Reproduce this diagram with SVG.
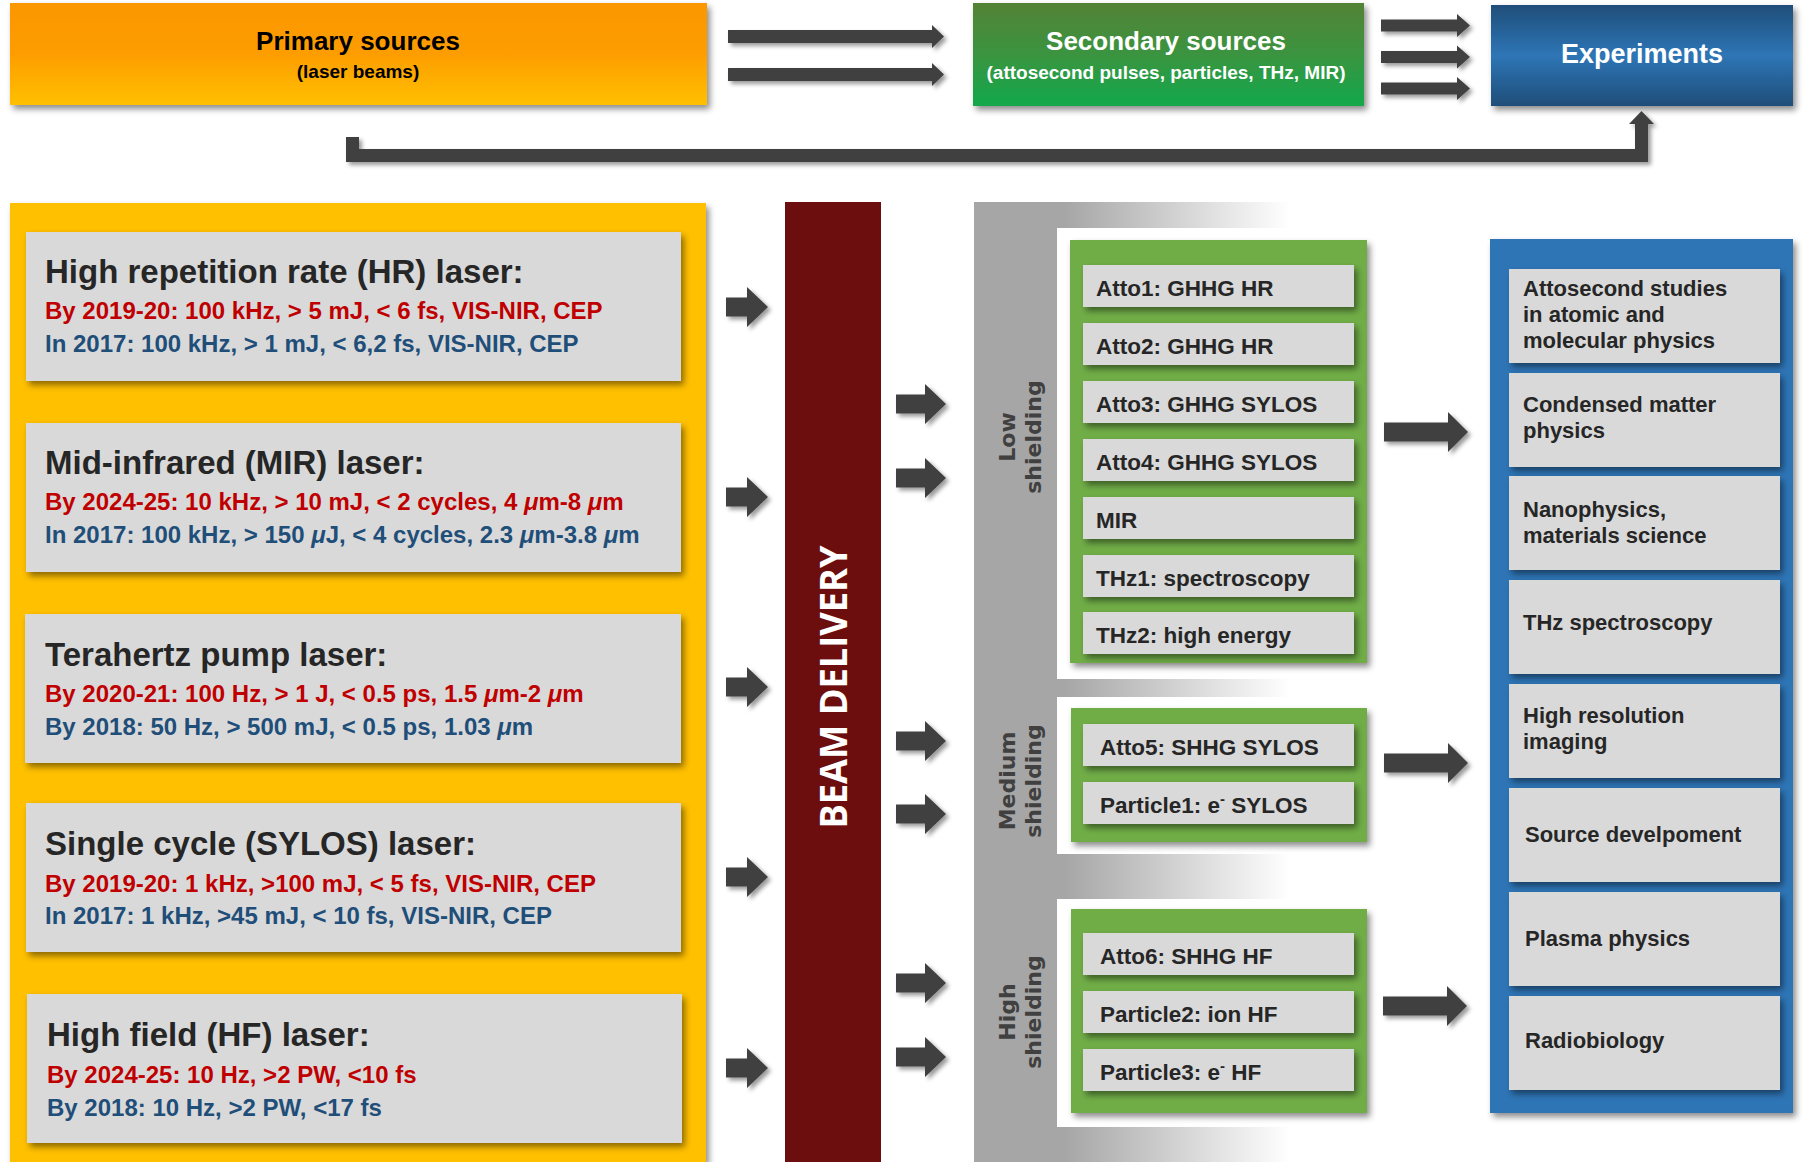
<svg xmlns="http://www.w3.org/2000/svg" xmlns:xlink="http://www.w3.org/1999/xlink" width="1805" height="1162" viewBox="0 0 1805 1162">
<style>
.lt{font-family:"Liberation Sans",Arial,sans-serif}
.hd{font-family:"Liberation Sans",Arial,sans-serif;font-weight:bold;text-anchor:middle}
.title{font-size:33px;font-weight:bold;fill:#262626}
.red{font-size:24px;font-weight:bold;fill:#C00000}
.blue{font-size:24px;font-weight:bold;fill:#1F4E79}
.item{font-family:"Liberation Sans",Arial,sans-serif;font-size:22.5px;font-weight:bold;fill:#262626}
.exp{font-family:"Liberation Sans",Arial,sans-serif;font-size:22px;font-weight:bold;fill:#262626}
.shl{font-family:"DejaVu Sans",sans-serif;font-weight:bold;font-size:22px;fill:#404040;text-anchor:middle}
.gbox{fill:#D9D9D9}
.arr{fill:#404040}
</style>
<defs>
<filter id="sh" x="-10%" y="-10%" width="130%" height="140%"><feDropShadow dx="3" dy="4" stdDeviation="3" flood-color="#000" flood-opacity="0.45"/></filter>
<filter id="ash" x="-10%" y="-30%" width="130%" height="170%"><feDropShadow dx="3" dy="3" stdDeviation="2" flood-color="#000" flood-opacity="0.4"/></filter>
<linearGradient id="gPrim" x1="0" y1="0" x2="0" y2="1"><stop offset="0" stop-color="#FB9700"/><stop offset="0.5" stop-color="#FD9D00"/><stop offset="1" stop-color="#FFC000"/></linearGradient>
<linearGradient id="gSec" x1="0" y1="0" x2="0" y2="1"><stop offset="0" stop-color="#548235"/><stop offset="0.5" stop-color="#3A9440"/><stop offset="1" stop-color="#12A84B"/></linearGradient>
<linearGradient id="gExp" x1="0" y1="0" x2="0" y2="1"><stop offset="0" stop-color="#1F4E79"/><stop offset="0.5" stop-color="#2E75B6"/><stop offset="1" stop-color="#1F4E79"/></linearGradient>
<linearGradient id="gShield" gradientUnits="userSpaceOnUse" x1="1065" y1="0" x2="1290" y2="0"><stop offset="0" stop-color="#A6A6A6"/><stop offset="1" stop-color="#FFFFFF"/></linearGradient>
<path id="aTop1" d="M0,-6.5 H204 V-11.5 L216,0 L204,11.5 V6.5 H0 Z"/>
<path id="aTop2" d="M0,-6 H76 V-11.5 L89,0 L76,11.5 V6 H0 Z"/>
<path id="aL" d="M0,-9.5 H21 V-20 L42,0 L21,20 V9.5 H0 Z"/>
<path id="aB" d="M0,-9.5 H29 V-20 L50,0 L29,20 V9.5 H0 Z"/>
<path id="aG" d="M0,-9.5 H64 V-20 L84,0 L64,20 V9.5 H0 Z"/>
</defs>
<rect width="1805" height="1162" fill="#FFFFFF"/>

<!-- top row -->
<g id="primary">
<rect x="10" y="3" width="697" height="102" fill="url(#gPrim)" filter="url(#sh)"/>
<text class="hd" x="358" y="50" font-size="26" fill="#000">Primary sources</text>
<text class="hd" x="358" y="78" font-size="19" fill="#000">(laser beams)</text>
</g>
<g id="secondary">
<rect x="973" y="3" width="391" height="103" fill="url(#gSec)" filter="url(#sh)"/>
<text class="hd" x="1166" y="50" font-size="26" fill="#FFFFFF">Secondary sources</text>
<text class="hd" x="1166" y="79" font-size="19" fill="#FFFFFF">(attosecond pulses, particles, THz, MIR)</text>
</g>
<g id="experiments">
<rect x="1491" y="5" width="302" height="101" fill="url(#gExp)" filter="url(#sh)"/>
<text class="hd" x="1642" y="63" font-size="27" fill="#FFFFFF">Experiments</text>
</g>

<!-- laser panel -->
<g id="lasers">
<rect x="10" y="203" width="696" height="959" fill="#FFC000" filter="url(#sh)"/>
</g>
<g id="hr" class="lt">
<rect class="gbox" x="26" y="232" width="655" height="149" filter="url(#sh)"/>
<text class="title" x="45" y="283">High repetition rate (HR) laser:</text>
<text class="red" x="45" y="319">By 2019-20: 100 kHz, &gt; 5 mJ, &lt; 6 fs, VIS-NIR, CEP</text>
<text class="blue" x="45" y="352">In 2017: 100 kHz, &gt; 1 mJ, &lt; 6,2 fs, VIS-NIR, CEP</text>
</g>
<g id="mir" class="lt">
<rect class="gbox" x="26" y="423" width="655" height="149" filter="url(#sh)"/>
<text class="title" x="45" y="474">Mid-infrared (MIR) laser:</text>
<text class="red" x="45" y="510">By 2024-25: 10 kHz, &gt; 10 mJ, &lt; 2 cycles, 4 <tspan font-style="italic">μ</tspan>m-8 <tspan font-style="italic">μ</tspan>m</text>
<text class="blue" x="45" y="543">In 2017: 100 kHz, &gt; 150 <tspan font-style="italic">μ</tspan>J, &lt; 4 cycles, 2.3 <tspan font-style="italic">μ</tspan>m-3.8 <tspan font-style="italic">μ</tspan>m</text>
</g>
<g id="thz" class="lt">
<rect class="gbox" x="25" y="614" width="656" height="149" filter="url(#sh)"/>
<text class="title" x="45" y="666">Terahertz pump laser:</text>
<text class="red" x="45" y="702">By 2020-21: 100 Hz, &gt; 1 J, &lt; 0.5 ps, 1.5 <tspan font-style="italic">μ</tspan>m-2 <tspan font-style="italic">μ</tspan>m</text>
<text class="blue" x="45" y="735">By 2018: 50 Hz, &gt; 500 mJ, &lt; 0.5 ps, 1.03 <tspan font-style="italic">μ</tspan>m</text>
</g>
<g id="sylos" class="lt">
<rect class="gbox" x="26" y="803" width="655" height="149" filter="url(#sh)"/>
<text class="title" x="45" y="855">Single cycle (SYLOS) laser:</text>
<text class="red" x="45" y="892">By 2019-20: 1 kHz, &gt;100 mJ, &lt; 5 fs, VIS-NIR, CEP</text>
<text class="blue" x="45" y="924">In 2017: 1 kHz, &gt;45 mJ, &lt; 10 fs, VIS-NIR, CEP</text>
</g>
<g id="hf" class="lt">
<rect class="gbox" x="27" y="994" width="655" height="149" filter="url(#sh)"/>
<text class="title" x="47" y="1046">High field (HF) laser:</text>
<text class="red" x="47" y="1083">By 2024-25: 10 Hz, &gt;2 PW, &lt;10 fs</text>
<text class="blue" x="47" y="1116">By 2018: 10 Hz, &gt;2 PW, &lt;17 fs</text>
</g>

<!-- beam delivery -->
<g id="beam-delivery">
<rect x="785" y="202" width="96" height="960" fill="#6D0E0E"/>
<text transform="translate(847,687) rotate(-90)" x="0" y="0" text-anchor="middle" font-family="'Open Sans',sans-serif" font-weight="bold" font-size="38" fill="#FFFFFF" textLength="283" lengthAdjust="spacingAndGlyphs">BEAM DELIVERY</text>
</g>

<!-- shielding -->
<g id="shielding">
<rect x="974" y="202" width="430" height="960" fill="url(#gShield)"/>
<rect x="1057" y="228" width="347" height="451" fill="#FFFFFF"/>
<rect x="1057" y="697" width="347" height="157" fill="#FFFFFF"/>
<rect x="1057" y="899" width="347" height="228" fill="#FFFFFF"/>
</g>
<g id="low-shielding">
<text class="shl" transform="translate(1015,437) rotate(-90)">Low</text>
<text class="shl" transform="translate(1041,437) rotate(-90)">shielding</text>
<rect x="1070" y="240" width="297" height="423" fill="#70AD47" filter="url(#sh)"/>
<g id="atto1"><rect class="gbox" x="1083" y="265" width="271" height="42" filter="url(#sh)"/><text class="item" x="1096" y="296">Atto1: GHHG HR</text></g>
<g id="atto2"><rect class="gbox" x="1083" y="323" width="271" height="42" filter="url(#sh)"/><text class="item" x="1096" y="354">Atto2: GHHG HR</text></g>
<g id="atto3"><rect class="gbox" x="1083" y="381" width="271" height="42" filter="url(#sh)"/><text class="item" x="1096" y="412">Atto3: GHHG SYLOS</text></g>
<g id="atto4"><rect class="gbox" x="1083" y="439" width="271" height="42" filter="url(#sh)"/><text class="item" x="1096" y="470">Atto4: GHHG SYLOS</text></g>
<g id="mir-src"><rect class="gbox" x="1083" y="497" width="271" height="42" filter="url(#sh)"/><text class="item" x="1096" y="528">MIR</text></g>
<g id="thz1"><rect class="gbox" x="1083" y="555" width="271" height="42" filter="url(#sh)"/><text class="item" x="1096" y="586">THz1: spectroscopy</text></g>
<g id="thz2"><rect class="gbox" x="1083" y="612" width="271" height="42" filter="url(#sh)"/><text class="item" x="1096" y="643">THz2: high energy</text></g>
</g>
<g id="medium-shielding">
<text class="shl" transform="translate(1015,781) rotate(-90)">Medium</text>
<text class="shl" transform="translate(1041,781) rotate(-90)">shielding</text>
<rect x="1071" y="708" width="296" height="134" fill="#70AD47" filter="url(#sh)"/>
<g id="atto5"><rect class="gbox" x="1083" y="724" width="271" height="42" filter="url(#sh)"/><text class="item" x="1100" y="755">Atto5: SHHG SYLOS</text></g>
<g id="particle1"><rect class="gbox" x="1083" y="782" width="271" height="42" filter="url(#sh)"/><text class="item" x="1100" y="813">Particle1: e<tspan dy="-9" font-size="15">-</tspan><tspan dy="9"> SYLOS</tspan></text></g>
</g>
<g id="high-shielding">
<text class="shl" transform="translate(1015,1012) rotate(-90)">High</text>
<text class="shl" transform="translate(1041,1012) rotate(-90)">shielding</text>
<rect x="1071" y="909" width="296" height="204" fill="#70AD47" filter="url(#sh)"/>
<g id="atto6"><rect class="gbox" x="1083" y="933" width="271" height="42" filter="url(#sh)"/><text class="item" x="1100" y="964">Atto6: SHHG HF</text></g>
<g id="particle2"><rect class="gbox" x="1083" y="991" width="271" height="42" filter="url(#sh)"/><text class="item" x="1100" y="1022">Particle2: ion HF</text></g>
<g id="particle3"><rect class="gbox" x="1083" y="1049" width="271" height="42" filter="url(#sh)"/><text class="item" x="1100" y="1080">Particle3: e<tspan dy="-9" font-size="15">-</tspan><tspan dy="9"> HF</tspan></text></g>
</g>

<!-- experiments column -->
<g id="experiment-list">
<rect x="1490" y="239" width="303" height="874" fill="#2E75B6" filter="url(#sh)"/>
<g id="exp1"><rect class="gbox" x="1509" y="269" width="271" height="94" filter="url(#sh)"/><text class="exp" x="1523" y="296">Attosecond studies<tspan x="1523" dy="26">in atomic and</tspan><tspan x="1523" dy="26">molecular physics</tspan></text></g>
<g id="exp2"><rect class="gbox" x="1509" y="373" width="271" height="94" filter="url(#sh)"/><text class="exp" x="1523" y="412">Condensed matter<tspan x="1523" dy="26">physics</tspan></text></g>
<g id="exp3"><rect class="gbox" x="1509" y="476" width="271" height="94" filter="url(#sh)"/><text class="exp" x="1523" y="517">Nanophysics,<tspan x="1523" dy="26">materials science</tspan></text></g>
<g id="exp4"><rect class="gbox" x="1509" y="580" width="271" height="94" filter="url(#sh)"/><text class="exp" x="1523" y="630">THz spectroscopy</text></g>
<g id="exp5"><rect class="gbox" x="1509" y="684" width="271" height="94" filter="url(#sh)"/><text class="exp" x="1523" y="723">High resolution<tspan x="1523" dy="26">imaging</tspan></text></g>
<g id="exp6"><rect class="gbox" x="1509" y="788" width="271" height="94" filter="url(#sh)"/><text class="exp" x="1525" y="842">Source develpoment</text></g>
<g id="exp7"><rect class="gbox" x="1509" y="892" width="271" height="94" filter="url(#sh)"/><text class="exp" x="1525" y="946">Plasma physics</text></g>
<g id="exp8"><rect class="gbox" x="1509" y="996" width="271" height="94" filter="url(#sh)"/><text class="exp" x="1525" y="1048">Radiobiology</text></g>
</g>

<!-- connectors -->
<g id="connectors" class="arr" filter="url(#ash)">
<use href="#aTop1" transform="translate(728,36.5)"/>
<use href="#aTop1" transform="translate(728,74.5)"/>
<use href="#aTop2" transform="translate(1381,25.5)"/>
<use href="#aTop2" transform="translate(1381,57)"/>
<use href="#aTop2" transform="translate(1381,88.5)"/>
<path d="M346,137 H359 V149 H1635 V124 H1629 L1641.5,111 L1654,124 H1648 V162 H346 Z"/>
<use href="#aL" transform="translate(726,307)"/>
<use href="#aL" transform="translate(726,497)"/>
<use href="#aL" transform="translate(726,687)"/>
<use href="#aL" transform="translate(726,877)"/>
<use href="#aL" transform="translate(726,1068)"/>
<use href="#aB" transform="translate(896,404)"/>
<use href="#aB" transform="translate(896,478)"/>
<use href="#aB" transform="translate(896,741)"/>
<use href="#aB" transform="translate(896,814)"/>
<use href="#aB" transform="translate(896,983)"/>
<use href="#aB" transform="translate(896,1057)"/>
<use href="#aG" transform="translate(1384,432)"/>
<use href="#aG" transform="translate(1384,763)"/>
<use href="#aG" transform="translate(1383,1006)"/>
</g>
</svg>
